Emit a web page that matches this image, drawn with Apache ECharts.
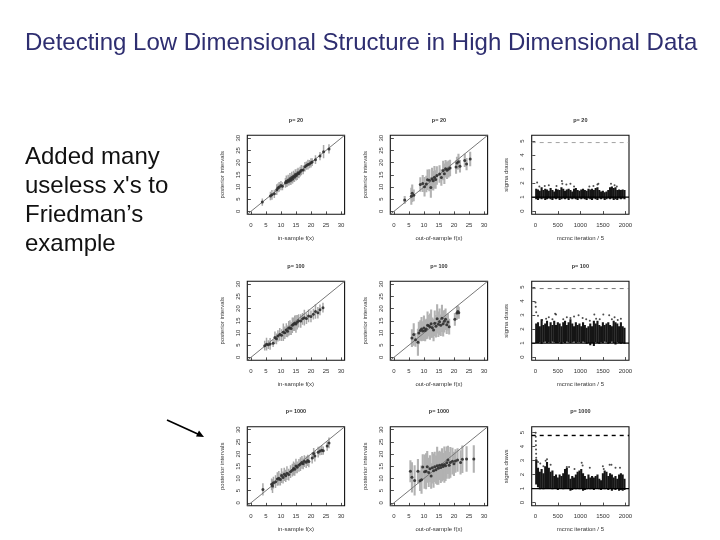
<!DOCTYPE html>
<html><head><meta charset="utf-8">
<style>html,body{margin:0;padding:0;background:#fff}#c,#t{position:absolute;left:0;top:0;width:720px;height:540px}#c{filter:blur(0.45px)}#t{pointer-events:none}</style>
<script src="https://cdn.jsdelivr.net/npm/echarts@6/dist/echarts.min.js"></script>
</head><body><div id="c"></div><div id="t"></div>
<script>
const fitTicks=[0,5,10,15,20,25,30];
const sigmaYTicks=[0,1,2,3,4,5];
const iterTicks=[0,500,1000,1500,2000];
const rowTitles=['p= 20','p= 100','p= 1000'];
// [f(x), posterior mean, half width]
const in20=[[3.8,3.8,1.5],[6.5,6.3,1.7],[7,6.8,2],[7.8,7.2,1.7],[8.6,8.9,2.2],[9,9.6,1.8],[9.4,10,2],[10,10.6,1.9],[10.5,10.3,1.6],[11.5,11.7,2],[11.8,12.4,2.3],[12,11.9,1.9],[12.4,12.8,2.2],[12.7,12.4,1.8],[13,13.4,2.3],[13.3,12.8,2],[13.6,13.9,2.4],[13.9,13.3,1.9],[14.2,14.4,2.3],[14.5,14,2],[14.8,15.1,2.2],[15.1,14.6,1.9],[15.4,15.2,2.3],[15.7,15.8,2.1],[16,15.5,1.9],[16.4,16.3,2],[16.8,16.9,2.1],[17.4,17,1.8],[18,18.3,1.9],[18.5,18.8,1.7],[19,19.2,2],[19.5,19.4,1.7],[20,19.9,1.9],[20.4,20.2,1.6],[21.5,21.2,1.8],[23,22.7,1.7],[24.2,24.5,2.7],[26,25.6,1.9]];
const out20=[[3.6,4.7,1.6],[5.8,6.2,3.5],[6.1,7.4,3.6],[6.6,6.6,2.4],[8.8,11,3],[9.6,11.4,3.5],[10.2,10.1,4],[10.8,11.2,3.4],[11.2,13,4.2],[11.8,12.8,4.5],[12.3,9.8,4.2],[12.7,13.4,4.5],[13.1,12.6,4],[13.5,14,4.6],[13.9,13.1,3.8],[14.3,14.7,3.8],[15.2,15.3,3.6],[15.8,13.9,3.4],[16.4,16.8,4],[16.8,15.4,4.2],[17.2,17.5,3.6],[17.7,16.9,3.6],[18.2,17.4,3.5],[18.7,17.8,3.4],[20.7,18.2,2.8],[21,19.8,2.6],[21.5,20.4,3.2],[22,18.5,2.6],[23.6,20.9,2.7],[24.2,19.4,2.5],[25.4,21.5,3]];
const in100=[[4.6,4.8,2],[5.2,5.4,2.6],[5.8,5.2,1.8],[6.4,5.5,2.4],[7.4,5.8,1.5],[8,8.1,2.5],[8.5,7.6,2.2],[9,8.8,2.3],[9.6,9.4,2.6],[10.2,9.1,2.4],[10.8,10.3,3.6],[11.3,10.1,2.6],[11.8,11.2,2.8],[12.2,10.7,2.4],[12.6,11.9,3],[13,12.2,3],[13.4,11.8,2.6],[13.8,13.2,3.2],[14.2,13.6,2.8],[14.6,14,3.2],[15,13.7,3.6],[15.4,14.4,3],[15.9,15,2.7],[16.6,14.9,2.8],[17.2,15.8,2.4],[17.8,16.3,3.2],[18.5,15.9,2.2],[19.2,17,2.6],[20,16.8,2.4],[20.8,17.7,2.2],[21.5,18.8,3],[22.3,18.3,2.4],[23,19.5,2.2],[24,20.4,2]];
const out100=[[6,7.9,3.6],[6.6,9.4,4.6],[7.2,7.2,2.8],[8,6.2,5.5],[8.3,10,4.6],[8.8,11,4.2],[9.2,11.6,5],[9.6,10.8,4],[10,12,5.2],[10.4,11,4.4],[10.8,11.6,4.2],[11.2,13.2,5.6],[11.6,13,4.4],[12,12.6,5.4],[12.4,13.8,5.8],[12.8,12.2,4.2],[13.2,11.2,4.6],[13.6,14,5.2],[14,12.8,4.6],[14.4,15.8,6],[14.8,13.6,5.2],[15.2,14.6,5.4],[15.6,13.2,4.4],[16,16,5.6],[16.4,13.8,5.2],[16.8,14.8,4.6],[17.2,15.6,4.4],[17.6,13.4,3.8],[18,14.5,3.5],[18.4,12.6,3.2],[20.3,15.6,2.6],[21,18.2,2.8],[21.3,18.8,2.5],[21.6,18.3,2.5]];
const in1000=[[4,5.5,2.5],[6.9,7.6,2.4],[7.2,6.9,2.8],[7.5,8.3,2.4],[8.2,8.7,2.6],[8.8,9.8,2.8],[9.3,10.1,3],[9.8,9.6,2.5],[10.2,11.2,3],[10.7,10.4,2.5],[11.1,11.7,2.7],[11.6,11.1,2.5],[12,12.2,2.8],[12.6,11.6,2.4],[13.2,12.8,2.6],[13.8,13.4,2.6],[14.2,14.1,2.9],[14.6,13.8,2.7],[15,15.1,3],[15.4,14.6,2.4],[16,15.4,2.6],[16.5,15.9,2.8],[17,16.6,2.6],[17.4,16,2.2],[17.8,17.1,2.4],[18.4,16.7,2.4],[18.9,17.4,2.3],[19.3,17,2.4],[20.4,18.4,2.3],[20.9,20.3,2.2],[21.3,19.2,2.2],[22.4,20.8,2.2],[23,21.3,1.8],[23.6,21.6,2],[24.1,21.4,1.7],[25.4,23.3,1.9],[26,24.6,2.2]];
const out1000=[[5.5,13,4.5],[6,10.5,6.2],[6.9,9.2,6.2],[8,13,5],[8.7,9.1,4.2],[9.2,9.5,5.8],[9.6,14.7,5.2],[10.2,12.8,7],[10.7,13,7.4],[11.1,14.8,6.5],[11.6,12.5,6],[12,14,5.5],[12.4,11,5.2],[12.8,14.4,6.5],[13.2,13.2,7],[13.6,14.8,6.2],[14,13.6,5.8],[14.4,15.2,7.8],[14.8,14.2,6.8],[15.2,15.4,6],[15.6,14.5,6.4],[16,15.6,6.8],[16.4,14.9,5.6],[16.8,15.7,7.4],[17.2,15.2,6.2],[17.6,16.5,6.6],[18,17.6,5.8],[18.4,15.4,5.5],[18.8,16.6,6.3],[19.5,17.1,5.5],[20,16,5],[20.5,17.2,4.8],[21.2,17.6,4.8],[22.2,16.6,5],[22.8,17.9,5.6],[24.2,18,5.2],[26.6,18,5.6]];
// sigma draws: columns every 40 iterations
const sigmaIter=[20,60,100,140,180,220,260,300,340,380,420,460,500,540,580,620,660,700,740,780,820,860,900,940,980,1020,1060,1100,1140,1180,1220,1260,1300,1340,1380,1420,1460,1500,1540,1580,1620,1660,1700,1740,1780,1820,1860,1900,1940,1980];
const low20=[0.85,0.8,0.9,0.85,0.9,0.8,0.85,0.9,0.85,0.8,0.9,0.85,0.9,0.8,0.85,0.9,0.85,0.9,0.8,0.9,0.85,0.9,0.85,0.8,0.9,0.85,0.9,0.85,0.8,0.9,0.85,0.8,0.9,0.85,0.8,0.9,0.85,0.9,0.8,0.85,0.9,0.85,0.9,0.8,0.85,0.8,0.9,0.85,0.9,0.85];
const high20=[1.6,1.55,1.45,1.7,1.5,1.6,1.55,1.45,1.65,1.5,1.4,1.6,1.55,1.5,1.7,1.6,1.45,1.55,1.6,1.5,1.4,1.6,1.65,1.5,1.45,1.55,1.6,1.5,1.45,1.6,1.55,1.6,1.5,1.65,1.7,1.5,1.4,1.45,1.35,1.4,1.5,1.7,1.75,1.65,1.7,1.5,1.55,1.5,1.55,1.5];
const dots20=[[40,2.05],[90,1.75],[210,1.8],[300,1.85],[470,1.8],[590,2.15],[600,1.95],[690,1.9],[780,1.95],[860,1.75],[1200,1.75],[1290,1.8],[1380,1.9],[1400,1.95],[1680,1.95],[1760,1.85],[1810,1.75]];
const low100=[1,1,1.05,0.95,1.05,1.1,1,1.05,1,1.1,1.05,1,1,1.05,0.95,1.05,1,1.1,1.05,1,1.05,1.1,1,1.05,1.05,1,1.1,1.05,0.95,1,0.85,1,0.8,1.05,1,0.95,1.05,1,1.1,1.05,0.95,1,1.1,1,0.9,1.05,1,0.95,1,0.95];
const high100=[2.4,2.5,2.2,2.7,2.3,2.4,2.6,2.2,2.5,2.3,2.6,2.3,2.5,2.4,2.2,2.5,2.6,2.3,2.5,2.7,2.4,2.2,2.5,2.3,2.4,2.2,2.5,2.3,2.1,2.2,2.4,2.2,2.6,2.4,2.6,2.3,2.2,2.5,2.3,2.4,2.5,2.3,2.2,2.6,2.5,2.4,2.2,2.5,2.2,2.1];
const dots100=[[5,3.9],[10,3.6],[20,3.2],[60,2.95],[150,2.65],[240,2.75],[300,2.85],[380,2.7],[440,3.1],[460,3.05],[620,2.7],[700,2.85],[780,2.8],[860,2.9],[960,3],[1050,2.8],[1130,2.7],[1210,2.6],[1310,3.05],[1350,2.75],[1430,2.7],[1510,3.05],[1640,3],[1700,2.7],[1760,2.85],[1830,2.65],[1900,2.75]];
const low1000=[1.3,1.1,0.95,1,0.95,1,1,1.05,1,0.95,1,1,0.9,1,1,0.95,1,1.05,1,0.85,0.9,1,0.95,1,0.95,1,0.85,0.9,0.95,1,0.95,1,0.9,1,1,0.95,0.9,1,0.95,1,0.9,1,0.85,0.95,0.9,1,0.85,0.9,0.85,0.9];
const high1000=[3.1,2.5,2.2,2.4,2.1,2.6,2.9,2.5,2.2,2.3,1.9,2,1.8,2,1.9,2.1,2.4,2.5,2,1.7,1.9,1.8,2,2.2,2.3,2.4,2.1,1.9,1.7,2,1.8,1.9,1.8,1.9,2,1.7,1.6,2.1,2.3,2.2,1.9,2.1,2,1.8,1.9,1.7,2,2.1,2,1.7];
const dots1000=[[8,5],[10,4.7],[12,4.4],[14,4.1],[16,3.8],[18,3.5],[20,3.2],[30,3],[60,2.9],[110,2.8],[180,2.6],[230,3],[260,3.1],[340,2.7],[700,2.55],[750,2.55],[870,2.4],[1030,2.85],[1050,2.65],[1210,2.5],[1500,2.6],[1520,2.4],[1650,2.7],[1690,2.7],[1780,2.5],[1880,2.5]];
const sigmaTrue=[4.9,4.9,4.8];
const sigmaLine=1;

const panelLefts=[247.3,390.3,531.7];
const panelWidth=97.3;
const rowTops=[135.3,281.3,426.8];
const panelHeight=79;
const textCol='#333', tickFont=6, titleFont=5.5;
const option={animation:false,backgroundColor:'transparent',title:[],grid:[],xAxis:[],yAxis:[],series:[]};

function axis(kind,min,max,ticks,name,gap,idx,rot){
  return {type:'value',gridIndex:idx,min,max,name,nameLocation:'middle',nameGap:gap,
    nameTextStyle:{color:textCol,fontSize:tickFont,fontFamily:'Liberation Sans'},
    splitLine:{show:false},axisLine:{show:false},
    axisTick:{show:true,length:3,customValues:ticks,lineStyle:{color:'#222',width:0.8}},
    axisLabel:{show:true,customValues:ticks,formatter:v=>String(v),margin:kind==='x'?8:6,rotate:rot,color:textCol,fontSize:tickFont,fontFamily:'Liberation Sans',showMinLabel:true,showMaxLabel:true,hideOverlap:false}};
}
function addFit(rows,title,stroke,width){
  const g=option.grid.length-1;
  option.xAxis.push(axis('x',-1.2,31.2,fitTicks,title,21,g,0));
  option.yAxis.push(axis('y',-1.2,31.2,fitTicks,'posterior intervals',22,g,90));
  option.series.push({type:'line',xAxisIndex:g,yAxisIndex:g,data:[[-1.2,-1.2],[31.2,31.2]],symbol:'none',silent:true,lineStyle:{color:'#777',width:1},z:3});
  option.series.push({type:'custom',xAxisIndex:g,yAxisIndex:g,data:rows,clip:true,z:2,silent:true,
    encode:{x:0,y:1},
    renderItem(p,api){const x=api.value(0),y=api.value(1),h=api.value(2);
      const a=api.coord([x,y-h]),b=api.coord([x,y+h]);
      return {type:'line',shape:{x1:a[0],y1:a[1],x2:b[0],y2:b[1]},style:{stroke,lineWidth:width}};}});
  option.series.push({type:'scatter',xAxisIndex:g,yAxisIndex:g,data:rows.map(r=>[r[0],r[1]]),symbolSize:3,silent:true,itemStyle:{color:'#2e2e2e',opacity:0.9},z:4});
}
function addSigma(lows,highs,dots,truth,dashCol,dashW){
  const g=option.grid.length-1;
  option.xAxis.push(axis('x',-80,2080,iterTicks,'mcmc iteration / 5',21,g,0));
  option.yAxis.push(axis('y',-0.23,5.42,sigmaYTicks,'sigma draws',22,g,90));
  const cols=sigmaIter.map((t,i)=>[t,lows[i],highs[i]]);
  option.series.push({type:'custom',xAxisIndex:g,yAxisIndex:g,data:cols,clip:true,z:2,silent:true,encode:{x:0,y:[1,2]},
    renderItem(p,api){const a=api.coord([api.value(0),api.value(1)]),b=api.coord([api.value(0),api.value(2)]);
      return {type:'line',shape:{x1:a[0],y1:a[1],x2:b[0],y2:b[1]},style:{stroke:'#151515',lineWidth:2.1}};}});
  option.series.push({type:'scatter',xAxisIndex:g,yAxisIndex:g,data:dots,symbolSize:2,silent:true,itemStyle:{color:'#222'},z:3});
  option.series.push({type:'line',xAxisIndex:g,yAxisIndex:g,data:[[-80,sigmaLine],[2080,sigmaLine]],symbol:'none',silent:true,lineStyle:{color:'#000',width:1.2},z:4});
  option.series.push({type:'line',xAxisIndex:g,yAxisIndex:g,data:[[-80,truth],[2080,truth]],symbol:'none',silent:true,lineStyle:{color:dashCol,width:dashW,type:[4,4]},z:4});
}
const fits=[[in20,out20],[in100,out100],[in1000,out1000]];
const sig=[[low20,high20,dots20],[low100,high100,dots100],[low1000,high1000,dots1000]];
const dashCols=['#8a8a8a','#666','#000'], dashW=[0.8,0.9,1.4];
rowTops.forEach((top,r)=>{
  [0,1,2].forEach(c=>{
    option.grid.push({left:panelLefts[c],top,width:panelWidth,height:panelHeight,containLabel:false,show:true,borderColor:'#111',borderWidth:1.1,backgroundColor:'transparent'});
    option.title.push({text:rowTitles[r],padding:0,left:panelLefts[c]+panelWidth/2,top:top-18,textAlign:'center',textStyle:{fontSize:titleFont,fontWeight:'bold',color:'#333',fontFamily:'Liberation Sans'}});
    if(c===0) addFit(fits[r][0],'in-sample f(x)','#a8a8a8',1.5);
    if(c===1) addFit(fits[r][1],'out-of-sample f(x)','#b2b2b2',2.1);
    if(c===2) addSigma(sig[r][0],sig[r][1],sig[r][2],sigmaTrue[r],dashCols[r],dashW[r]);
  });
});
echarts.init(document.getElementById('c'),null,{renderer:'canvas'}).setOption(option);
echarts.init(document.getElementById('t'),null,{renderer:'canvas'}).setOption({animation:false,backgroundColor:'transparent',
 title:[
  {text:'Detecting Low Dimensional Structure in High Dimensional Data',padding:0,left:25,top:31,textStyle:{fontSize:24,fontWeight:'normal',color:'#2e2e70',fontFamily:'Liberation Sans'}},
  {text:'Added many\nuseless x\'s to\nFriedman’s\nexample',padding:0,left:25,top:142.5,textStyle:{fontSize:24,fontWeight:'normal',color:'#111',lineHeight:29,fontFamily:'Liberation Sans'}}
 ],
 graphic:[
  {type:'line',shape:{x1:167,y1:420,x2:200,y2:435},style:{stroke:'#000',lineWidth:1.7},silent:true},
  {type:'polygon',shape:{points:[[204,437],[196,436.5],[199,430.5]]},style:{fill:'#000'},silent:true}
 ]});
</script></body></html>
